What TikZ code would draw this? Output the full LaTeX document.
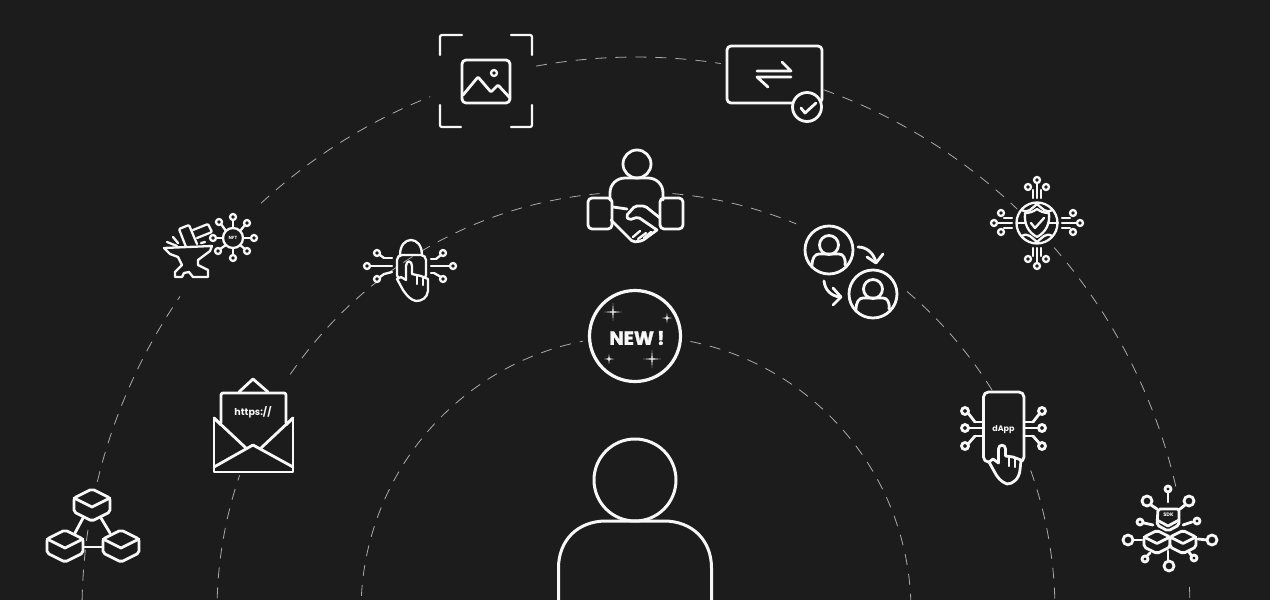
\documentclass[tikz,border=0pt]{standalone}
\usepackage{fontspec}
\setsansfont{Poppins}
\newfontfamily\heavyfont[BoldFeatures={FakeBold=1.6}]{Poppins}
\usetikzlibrary{calc}
\definecolor{bgdark}{HTML}{1C1C1C}
\definecolor{iconwhite}{HTML}{F7F7F7}
\tikzset{
%Define style for the icons and the dashed orbits
icon/.style={draw=iconwhite, line width=2.8pt, line join=round, line cap=round},
thinicon/.style={icon, line width=2.3pt},
solid box/.style={icon, fill=bgdark},
orbit/.style={draw=iconwhite!65!bgdark, line width=0.8pt, dash pattern=on 11pt off 9pt},
label/.style={text=iconwhite, font=\sffamily\bfseries, inner sep=0pt},
}
\newcommand{\orbitarc}[3]{\draw[orbit] (636,611) ++(-#1:#3) arc[start angle=-#1,end angle=-#2,radius=#3];}
\newcommand{\sparkle}[3]{\fill[iconwhite,shift={(#1,#2)}] (0,-#3) -- (.7,-.7) -- (#3,0) -- (.7,.7) -- (0,#3) -- (-.7,.7) -- (-#3,0) -- (-.7,-.7) -- cycle;}
\newcommand{\hexcube}[3]{\begin{scope}[shift={(#1,#2)},scale=#3]
    \draw[solid box,rounded corners=2pt] (0,-16) -- (18,-7) -- (18,7) -- (0,16) -- (-18,7) -- (-18,-7) -- cycle;
    \draw[icon] (-18,-7) -- (0,2) -- (18,-7);
    \end{scope}}
\newcommand{\userbadge}[2]{\begin{scope}[shift={(#1,#2)}]
    \draw[icon] (0,0) circle (24);
    \draw[icon] (0,-5) circle (9.5);
    \draw[icon] (-17,16) .. controls (-17,8) and (-14,4) .. (-10,4) -- (10,4) .. controls (14,4) and (17,8) .. (16,15);
    \end{scope}}

\begin{document}
\begin{tikzpicture}[x=1pt,y=-1pt]

    % background
    \fill[bgdark] (0,0) rectangle (1270,600);
    \clip (0,0) rectangle (1270,600);

    % orbits
    \orbitarc{181}{145.4}{554}
    \orbitarc{132.6}{111.8}{554}
    \orbitarc{100.4}{81.2}{554}
    \orbitarc{70.2}{46.5}{554}
    \orbitarc{41}{12.5}{554}
    \orbitarc{2.5}{-1}{554}
    \orbitarc{181}{161.1}{419}
    \orbitarc{145.6}{95}{419}
    \orbitarc{85}{67.5}{419}
    \orbitarc{49.7}{31.8}{419}
    \orbitarc{19.6}{-1}{419}
    \orbitarc{181}{101.1}{275}
    \orbitarc{78.6}{-1}{275}

    % person in the middle
    \draw[icon,line width=3pt] (635,480) circle (41);
    \draw[icon,line width=3pt] (558.5,605) -- (558.5,568) .. controls (558.5,540) and (578,521) .. (606,521) -- (664,521) .. controls (692,521) and (711.5,540) .. (711.5,568) -- (711.5,605);

    % new badge
    \draw[icon,line width=3.2pt] (635,336) circle (45.5);
    \node[label,font=\heavyfont\bfseries\fontsize{19}{19}\selectfont] (newtext) at (637,338) {NEW\,!};
    \sparkle{613}{312}{9}
    \sparkle{667}{318}{5}
    \sparkle{609}{359}{5}
    \sparkle{652}{359}{9}

    % blocks
    \draw[icon] (83,518) -- (75,533);
    \draw[icon] (101,518) -- (110,533);
    \draw[icon] (84,547) -- (103,547);
    \hexcube{92}{505}{1}
    \hexcube{65}{546}{1}
    \hexcube{121}{546}{1}

    % envelope
    \draw[icon] (239,392) -- (253,379) -- (268,392);
    \draw[icon] (214,418) -- (214,472) -- (293,472) -- (293,418);
    \draw[icon] (214,418) -- (221,425);
    \draw[icon] (293,418) -- (286,425);
    \draw[icon,rounded corners=2pt] (221,423) -- (221,393) -- (286,393) -- (286,423);
    \draw[icon] (214,418) -- (246,448);
    \draw[icon] (293,418) -- (261,448);
    \draw[icon] (214,467) -- (253,445) -- (293,467);
    \node[label,font=\sffamily\bfseries\fontsize{9.5}{9.5}\selectfont] (urltext) at (253,412.5) {https://};

    % anvil and hammer
    \draw[thinicon] (164,248) -- (212,246) -- (210,251) -- (198,260) -- (198,265) -- (208,270) -- (208,277) -- (193,277) -- (189,272) -- (184,273) -- (182,277) -- (175,277) -- (175,272) -- (182,265) -- (178,257) -- (170,254) -- cycle;
    \draw[thinicon,rounded corners=1pt] (186,247) -- (179,229) -- (189,225) -- (197,244);
    \draw[thinicon,rounded corners=1pt] (193,230) -- (208,224) -- (212,232) -- (197,238);
    \draw[thinicon] (173,237) -- (178,243);
    \draw[thinicon] (167,242) -- (177,246);
    \draw[thinicon] (201,243) -- (205,242);

    % nft hub
    \draw[thinicon] (233,238) circle (10);
    \foreach \ax/\ay/\bx/\by in {233/228/233/220, 233/248/233/255, 223/238/216/238, 243/238/251/238, 240/231/245/225, 240/245/245/249, 226/231/221/224, 226/245/220/249}
        \draw[thinicon] (\ax,\ay) -- (\bx,\by);
    \foreach \px/\py in {233/217, 254/238, 233/258, 213/238, 247/223, 247/251, 218/251, 219/222}
        \draw[thinicon] (\px,\py) circle (3);
    \node[label,font=\sffamily\bfseries\fontsize{4.5}{4.5}\selectfont] (nfttext) at (233,238) {NFT};

    % lock and circuit
    \draw[thinicon] (400,255) .. controls (400,235) and (422,235) .. (422,255);
    \draw[thinicon,rounded corners=5pt] (397,255) rectangle (426,280);
    \foreach \ax/\ay/\bx/\by in {370/266/392/266, 380/255/384/258, 384/258/392/258, 380/277/384/274, 384/274/392/272, 431/266/450/266, 431/259/436/259, 436/259/441/255, 431/273/434/273, 434/273/441/277}
        \draw[thinicon] (\ax,\ay) -- (\bx,\by);
    \foreach \px/\py in {367/266, 377/253, 377/279, 453/266, 443/253, 443/279}
        \draw[thinicon] (\px,\py) circle (3);
    \draw[solid box,line width=2.3pt] (406,266) .. controls (406,260) and (412,260) .. (412,266) -- (412,274) -- (421,276) -- (428,279) -- (428,291) .. controls (427,298) and (422,301) .. (416,301) .. controls (411,300) and (407,296) .. (403,290) -- (397,279) -- (401,277) -- (406,280) -- cycle;
    \draw[thinicon] (417,275) -- (417,284);
    \draw[thinicon] (423,278) -- (423,285);

    % picture frame
    \draw[thinicon,rounded corners=2pt] (440,55) -- (440,35) -- (462,35);
    \draw[thinicon,rounded corners=2pt] (511,35) -- (532,35) -- (532,55);
    \draw[thinicon,rounded corners=2pt] (440,105) -- (440,127) -- (461,127);
    \draw[thinicon,rounded corners=2pt] (511,127) -- (532,127) -- (532,105);
    \draw[icon,rounded corners=4pt] (462,60) rectangle (510,103);
    \draw[icon,rounded corners=1pt] (463,95) -- (478,77) -- (491,92) -- (498,85) -- (510,98);
    \draw[thinicon] (494,73) circle (3);

    % transfer card
    \draw[icon,rounded corners=4pt] (727,46) rectangle (822,103);
    \draw[icon] (757,71) -- (791,71) -- (782,62);
    \draw[icon] (791,77) -- (757,77) -- (768,87);
    \draw[solid box] (807,107) circle (14.5);
    \draw[icon] (801,108) -- (805,113) -- (816,103);

    % handshake
    \draw[icon] (637,164) circle (14);
    \draw[icon] (610,200) -- (610,193) .. controls (610,184) and (617,178) .. (625,178) -- (648,178) .. controls (656,178) and (663,184) .. (663,193) -- (663,200);
    \draw[icon,rounded corners=4pt] (588,198) rectangle (612,229);
    \draw[icon,rounded corners=4pt] (660,198) rectangle (683,229);
    \draw[icon] (613,207) -- (627,209);
    \draw[icon,rounded corners=2pt] (660,218) -- (645,206) -- (635,206) -- (626,216) -- (629,220) -- (638,217) -- (657,230);
    \draw[icon,rounded corners=2pt] (611,220) -- (633,242) -- (642,241) -- (657,230);
    \draw[thinicon] (633,237) -- (640,231);
    \draw[thinicon] (638,239) -- (646,233);
    \draw[thinicon] (644,238) -- (651,232);

    % users swapping
    \userbadge{829}{250}
    \userbadge{873}{294}
    \draw[icon] (858,247) .. controls (866,247) and (873,252) .. (876,262);
    \draw[icon] (867,257) -- (876,263) -- (883,254);
    \draw[icon] (824,281) .. controls (825,290) and (831,296) .. (840,297);
    \draw[icon] (833,288) -- (841,297) -- (833,305);

    % shield and circuit
    \draw[thinicon] (1037,223) circle (20.5);
    \draw[thinicon] (1037,209) .. controls (1041,212) and (1045,213) .. (1049,213) .. controls (1050,224) and (1046,232) .. (1037,237) .. controls (1028,232) and (1024,224) .. (1025,213) .. controls (1029,213) and (1033,212) .. (1037,209) -- cycle;
    \draw[thinicon] (1031,223) -- (1035,228) -- (1044,218);
    \draw[thinicon] (1017,223) -- (1025,223);
    \draw[thinicon] (1049,223) -- (1058,223);
    \draw[thinicon] (1022,210) .. controls (1028,214) and (1032,208) .. (1037,204) .. controls (1042,208) and (1046,214) .. (1052,210);
    \draw[thinicon] (1022,236) .. controls (1028,232) and (1032,238) .. (1037,242) .. controls (1042,238) and (1046,232) .. (1052,236);
    \foreach \ax/\ay/\bx/\by in {1037/184/1037/198, 1033/198/1033/190, 1041/198/1041/190, 1037/248/1037/262, 1033/248/1033/256, 1041/248/1041/256, 998/223/1012/223, 1012/218/1004/218, 1012/228/1004/228, 1062/223/1076/223, 1062/218/1070/218, 1062/228/1070/228}
        \draw[thinicon] (\ax,\ay) -- (\bx,\by);
    \foreach \px/\py in {1037/180, 1028/187, 1046/187, 1037/266, 1028/259, 1046/259, 994/223, 1001/213, 1001/232, 1080/223, 1073/213, 1073/232}
        \draw[thinicon] (\px,\py) circle (3);

    % dapp phone
    \draw[solid box,rounded corners=5pt] (983.5,392) rectangle (1024,462);
    \node[label,font=\sffamily\bfseries\fontsize{8}{8}\selectfont] (dapptext) at (1003.5,429.5) {dApp};
    \foreach \ax/\ay/\bx/\by in {983/422/975/422, 975/422/968/413, 983/428/969/428, 983/436/975/436, 975/436/968/444, 1024/422/1033/422, 1033/422/1040/413, 1024/428/1038/428, 1024/436/1033/436, 1033/436/1040/444}
        \draw[icon] (\ax,\ay) -- (\bx,\by);
    \foreach \px/\py in {965/411, 965/428, 965/446, 1042/411, 1042/428, 1042/446}
        \draw[icon] (\px,\py) circle (3.5);
    \draw[solid box] (998.5,449) .. controls (998.5,444) and (1005.5,444) .. (1005.5,449) -- (1005.5,456) -- (1013,457) -- (1021,460) -- (1020,470) .. controls (1019,479) and (1013,484) .. (1007,484) .. controls (1001,482) and (997,477) .. (994,471) -- (989,462) -- (993,459) -- (998.5,463) -- cycle;
    \draw[thinicon] (1009,456) -- (1009,466);
    \draw[thinicon] (1015,458) -- (1015,467);

    % sdk cubes
    \foreach \ax/\ay/\bx/\by in {1168/493/1168/502, 1151/505/1157/509, 1185/505/1180/509, 1144/523/1153/525, 1192/522/1183/525, 1133/540/1142/540, 1198/539/1207/540, 1147/556/1150/553, 1168/551/1168/561, 1191/555/1189/552}
        \draw[icon] (\ax,\ay) -- (\bx,\by);
    \foreach \px/\py/\pr in {1168/489/3, 1147/501/5, 1189/501/5, 1140/522/3, 1197/521/3, 1128/540/5, 1212/540/5, 1145/559/3, 1169/566/5, 1194/558/3}
        \draw[icon] (\px,\py) circle (\pr);
    \hexcube{1157}{542}{0.72}
    \hexcube{1183}{542}{0.72}
    \draw[solid box,rounded corners=2pt] (1158,509) -- (1179,509) -- (1179,525) -- (1168,531) -- (1157,525) -- cycle;
    \draw[icon] (1157,520) -- (1168,526) -- (1179,520);
    \node[label,font=\sffamily\bfseries\fontsize{5}{5}\selectfont] (sdktext) at (1168.5,515) {SDK};

\end{tikzpicture}
\end{document}
